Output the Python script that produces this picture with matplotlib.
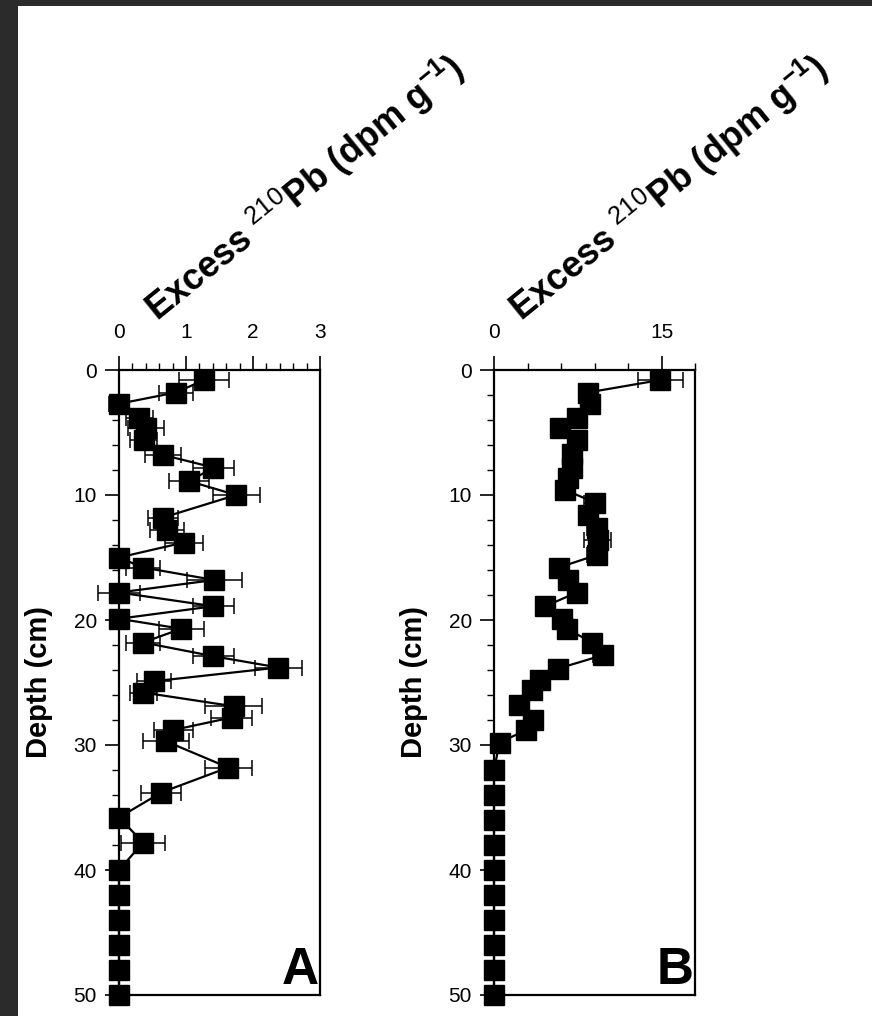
import numpy as np
import matplotlib
matplotlib.use("Agg")
import matplotlib.pyplot as plt
import matplotlib.patches as patches
from matplotlib.ticker import MultipleLocator, FixedLocator

plt.rcParams['font.family'] = ['Liberation Sans', 'DejaVu Sans']
plt.rcParams['mathtext.fontset'] = 'custom'
plt.rcParams['mathtext.rm'] = 'Liberation Sans'
plt.rcParams['mathtext.bf'] = 'Liberation Sans:bold'
plt.rcParams['mathtext.it'] = 'Liberation Sans:italic'

# core A
depth_a = [0.8, 1.8, 2.7, 3.8, 4.6, 5.6, 6.8, 7.8, 8.9, 10.0,
           11.8, 12.8, 13.8, 15.0, 15.8, 16.8, 17.8, 18.9, 19.9, 20.7,
           21.8, 22.9, 23.8, 24.9, 25.8, 26.9, 27.8, 28.8, 29.7, 31.8,
           33.8, 35.8, 37.8, 40, 42, 44, 46, 48, 50]
pb_a = [1.27, 0.85, 0.0, 0.30, 0.40, 0.37, 0.66, 1.41, 1.05, 1.75,
        0.66, 0.72, 0.97, 0.0, 0.36, 1.42, 0.0, 1.41, 0.0, 0.93,
        0.36, 1.41, 2.38, 0.52, 0.36, 1.71, 1.68, 0.81, 0.70, 1.63,
        0.63, 0.0, 0.36, 0, 0, 0, 0, 0, 0]
err_a = [0.37, 0.26, 0.15, 0.20, 0.27, 0.20, 0.27, 0.30, 0.30, 0.35,
         0.22, 0.25, 0.29, 0.10, 0.25, 0.41, 0.31, 0.31, 0.10, 0.34,
         0.25, 0.30, 0.35, 0.25, 0.20, 0.42, 0.30, 0.29, 0.34, 0.35,
         0.30, 0.10, 0.33, 0, 0, 0, 0, 0, 0]

# core B
depth_b = [0.8, 1.8, 2.7, 3.8, 4.6, 5.6, 6.7, 7.8, 8.6, 9.6,
           10.6, 11.6, 12.6, 13.6, 14.8, 15.8, 16.8, 17.8, 18.9, 19.9,
           20.7, 21.8, 22.8, 23.9, 24.8, 25.6, 26.8, 28.0, 28.8, 29.8,
           32, 34, 36, 38, 40, 42, 44, 46, 48, 50]
pb_b = [14.9, 8.4, 8.6, 7.4, 5.9, 7.4, 7.0, 7.0, 6.6, 6.4,
        9.0, 8.4, 9.2, 9.3, 9.2, 5.8, 6.6, 7.4, 4.6, 6.1,
        6.5, 8.8, 9.8, 5.7, 4.1, 3.4, 2.2, 3.5, 2.9, 0.5,
        0, 0, 0, 0, 0, 0, 0, 0, 0, 0]
err_b = [2.0, 0.8, 0.8, 0.7, 0.6, 0.7, 0.7, 0.7, 0.6, 0.6,
         0.9, 0.8, 0.9, 1.2, 0.9, 0.6, 0.6, 0.7, 0.5, 0.6,
         0.6, 0.8, 0.9, 0.6, 0.5, 0.4, 0.3, 0.4, 0.3, 0.2,
         0, 0, 0, 0, 0, 0, 0, 0, 0, 0]

W, H = 872, 1016
fig = plt.figure(figsize=(W / 100, H / 100), dpi=100)
fig.patch.set_facecolor('#2b2b2b')
fig.add_artist(patches.Rectangle((18 / W, 0), 1 - 18 / W, 1 - 6 / H,
                                 transform=fig.transFigure, facecolor='white',
                                 edgecolor='none', zorder=0))

label = r"$\mathbf{Excess}\ {}^{\mathrm{210}}\mathbf{Pb\ (dpm\ g}^{\mathbf{-1}}\mathbf{)}$"


def panel(left, depth, vals, errs, xmax, major, minor, letter, lab_x):
    ax = fig.add_axes([left / W, 1 - 995 / H, 201 / W, 625 / H])
    eb = ax.errorbar(vals, depth, xerr=errs, color='black', lw=1.6, elinewidth=1.1,
                     capsize=6, capthick=1.1, marker='s', markersize=14,
                     markerfacecolor='black', markeredgecolor='black', zorder=3)
    for art in eb.get_children():
        art.set_clip_on(False)
    ax.set_xlim(0, xmax)
    ax.set_ylim(50, 0)
    ax.xaxis.set_major_locator(FixedLocator(major))
    ax.xaxis.set_minor_locator(FixedLocator(minor))
    ax.yaxis.set_major_locator(MultipleLocator(10))
    ax.yaxis.set_minor_locator(MultipleLocator(2))
    ax.tick_params(axis='x', which='both', top=True, bottom=False,
                   labeltop=True, labelbottom=False, direction='out')
    ax.tick_params(axis='y', which='both', left=True, right=False, direction='out')
    ax.tick_params(which='major', length=10, width=1.2, labelsize=15)
    ax.tick_params(axis='x', which='major', pad=10)
    ax.tick_params(axis='y', which='major', pad=6)
    ax.tick_params(which='minor', length=5, width=1.0)
    for s in ax.spines.values():
        s.set_linewidth(1.6)
    ax.set_ylabel("Depth (cm)", fontsize=21, fontweight='bold')
    ax.yaxis.set_label_coords(-0.33, 0.5)
    ax.text(0.995, 0.0, letter, transform=ax.transAxes, ha='right', va='bottom',
            fontsize=37, fontweight='bold')
    ax.text(lab_x, 1.076, label, transform=ax.transAxes, rotation=39,
            rotation_mode='anchor', ha='left', va='baseline', fontsize=26)
    return ax


panel(119, depth_a, pb_a, err_a, 3, [0, 1, 2, 3],
      np.arange(0, 3.01, 0.2), "A", 0.195)
panel(494, depth_b, pb_b, err_b, 18, [0, 15],
      [0, 3, 6, 9, 12, 15, 18], "B", 0.14)

fig.savefig("out.png", dpi=100, facecolor=fig.get_facecolor())
